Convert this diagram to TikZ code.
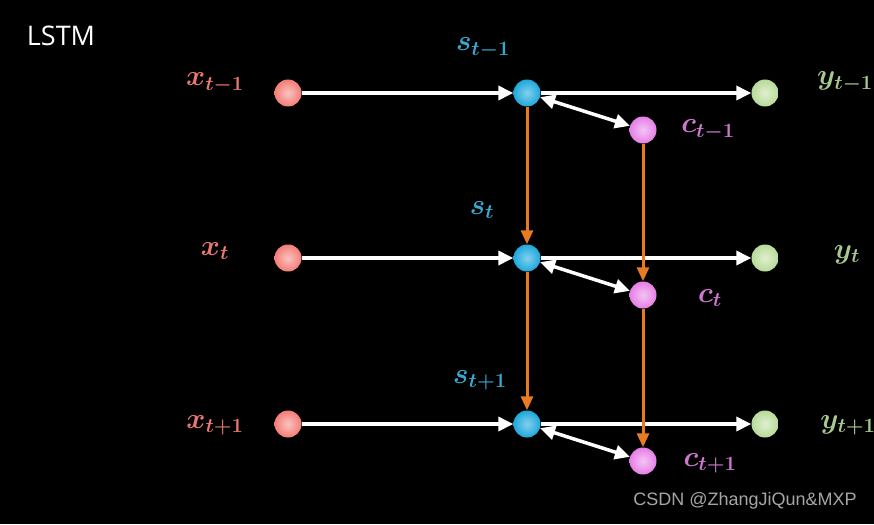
\RequirePackage{fix-cm}
\documentclass[tikz,border=0pt]{standalone}
\usepackage{amsmath}
\usepackage{fontspec}
\newfontfamily\titlefont{Open Sans}
\newfontfamily\markfont{Liberation Sans}
\usetikzlibrary{arrows.meta}
\definecolor{xcol}{HTML}{F47C76}
\definecolor{scol}{HTML}{1EA8DC}
\definecolor{ccol}{HTML}{E77EE6}
\definecolor{ycol}{HTML}{B8DB98}
\definecolor{xtxt}{HTML}{E87870}
\definecolor{stxt}{HTML}{38A8D0}
\definecolor{ctxt}{HTML}{D078D0}
\definecolor{ytxt}{HTML}{A8C890}
\definecolor{flow}{HTML}{E87A22}
\tikzset{
    % balls
    ball/.style={
           circle,
           minimum size=27pt,
           inner sep=0pt,
           shading=radial},
    xball/.style={ball, inner color=xcol!45!white, outer color=xcol},
    sball/.style={ball, inner color=scol!55!white, outer color=scol},
    cball/.style={ball, inner color=ccol!45!white, outer color=ccol},
    yball/.style={ball, inner color=ycol!45!white, outer color=ycol},
    % labels
    lab/.style={
           font=\fontsize{29}{33}\selectfont\boldmath},
    % arrows
    link/.style={
           draw=white,
           line width=3.5pt,
           -{Triangle[length=15pt,width=14pt]}},
    twoway/.style={
           draw=white,
           line width=3.5pt,
           {Triangle[length=15pt,width=14pt]}-{Triangle[length=15pt,width=14pt]}},
    carry/.style={
           draw=flow,
           line width=3pt,
           -{Triangle[length=14pt,width=12pt]}}
}
\begin{document}
\begin{tikzpicture}[x=1pt,y=-1pt]
  \fill[black] (0,0) rectangle (874,524);
  \useasboundingbox (0,0) rectangle (874,524);
  \node[text=white, font=\titlefont\fontsize{27}{31}\selectfont] (title) at (61,36) {LSTM};
  % three time steps
  \foreach \r/\y in {1/93, 2/258, 3/424} {
    \node[xball] (x\r) at (288,\y) {};
    \node[sball] (s\r) at (527,\y) {};
    \node[cball] (c\r) at (643,\y+37) {};
    \node[yball] (y\r) at (765,\y) {};
    \draw[link] (x\r) -- (s\r);
    \draw[link] (s\r) -- (y\r);
    \draw[twoway] (s\r) -- (c\r);
  }
  % labels
  \node[lab, text=xtxt] (lx1) at (215,83) {$x_{t-1}$};
  \node[lab, text=xtxt] (lx2) at (215,251) {$x_{t}$};
  \node[lab, text=xtxt] (lx3) at (215,425) {$x_{t+1}$};
  \node[lab, text=stxt] (ls1) at (483,48) {$s_{t-1}$};
  \node[lab, text=stxt] (ls2) at (482,210) {$s_{t}$};
  \node[lab, text=stxt] (ls3) at (480,380) {$s_{t+1}$};
  \node[lab, text=ctxt] (lc1) at (708,130) {$c_{t-1}$};
  \node[lab, text=ctxt] (lc2) at (710,298) {$c_{t}$};
  \node[lab, text=ctxt] (lc3) at (710,463) {$c_{t+1}$};
  \node[lab, text=ytxt] (ly1) at (845,82) {$y_{t-1}$};
  \node[lab, text=ytxt] (ly2) at (847,255) {$y_{t}$};
  \node[lab, text=ytxt] (ly3) at (848,425) {$y_{t+1}$};
  % state and cell carried down
  \draw[carry] (s1) -- (s2);
  \draw[carry] (s2) -- (s3);
  \draw[carry] (c1) -- (c2);
  \draw[carry] (c2) -- (c3);
  \node[text=gray!70, font=\markfont\fontsize{18}{21}\selectfont] (mark) at (745,501) {CSDN @ZhangJiQun\&MXP};
\end{tikzpicture}
\end{document}
